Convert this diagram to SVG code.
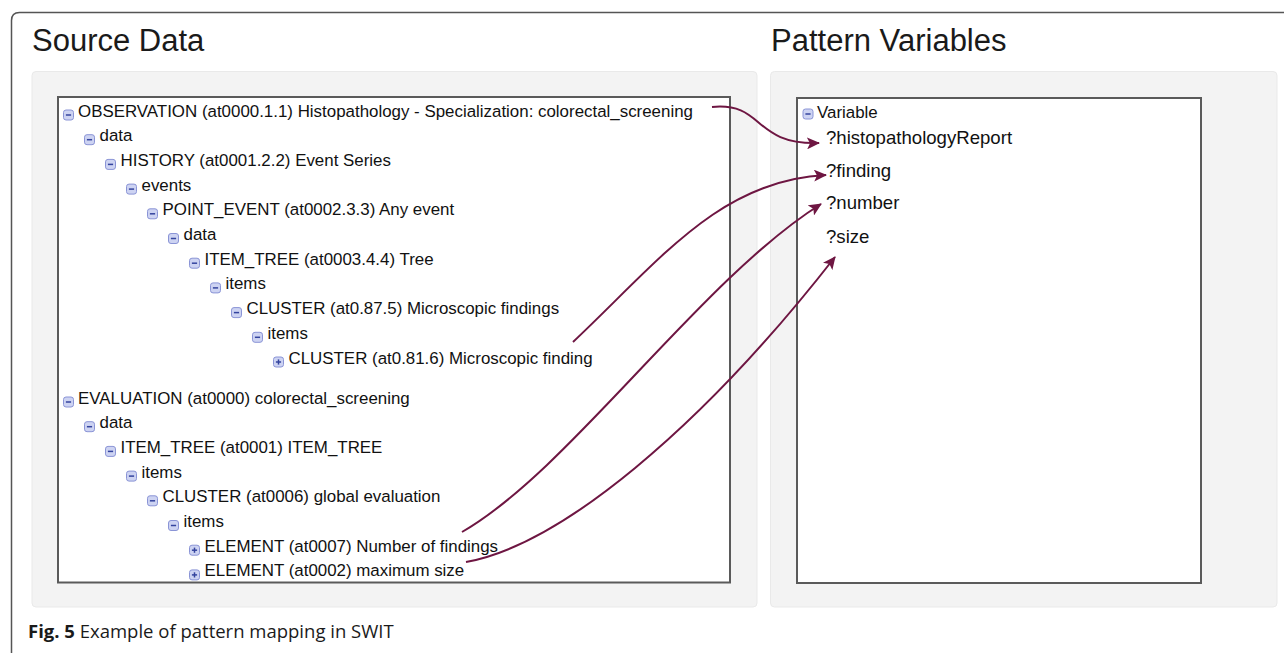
<svg xmlns="http://www.w3.org/2000/svg" xmlns:xlink="http://www.w3.org/1999/xlink" width="1284" height="653" viewBox="0 0 1284 653">
<style>
.t{font-family:"Liberation Sans",Arial,sans-serif;font-size:16.9px;fill:#111}
.v{font-family:"Liberation Sans",Arial,sans-serif;font-size:18.6px;fill:#111}
.h{font-family:"Liberation Sans",Arial,sans-serif;font-size:31px;fill:#1a1a1a}
.cap{font-family:"Open Sans","Noto Sans",sans-serif;font-size:18.5px;fill:#1a1a1a}
.panel{fill:#f3f3f3;stroke:#e9e9e9;stroke-width:1}
.box{fill:#fff;stroke:#5a5a5a;stroke-width:2}
.conn{fill:none;stroke:#6e1642;stroke-width:2}
</style>
<defs>
<g id="minus"><rect x="0" y="0" width="10" height="10" rx="2.5" fill="#cdd3f2" stroke="#8a94d6" stroke-width="1"/><line x1="2.4" y1="5" x2="7.6" y2="5" stroke="#34449e" stroke-width="1.5"/></g>
<g id="plus"><rect x="0" y="0" width="10" height="10" rx="2.5" fill="#cdd3f2" stroke="#8a94d6" stroke-width="1"/><line x1="2.4" y1="5" x2="7.6" y2="5" stroke="#34449e" stroke-width="1.5"/><line x1="5" y1="2.4" x2="5" y2="7.6" stroke="#34449e" stroke-width="1.5"/></g>
<marker id="arr" markerUnits="userSpaceOnUse" markerWidth="14" markerHeight="12" refX="12" refY="6" orient="auto"><path d="M0,0 L13,6 L0,12 L3,6 z" fill="#6e1642"/></marker>
</defs>
<rect width="1284" height="653" fill="#fff"/>
<path d="M11.5,653 V20.5 Q11.5,12.5 19.5,12.5 H1284" fill="none" stroke="#555" stroke-width="1.5"/>
<text class="h" x="32" y="51">Source Data</text>
<text class="h" x="771" y="51">Pattern Variables</text>
<g id="source-panel">
<rect class="panel" x="32" y="71.5" width="725" height="535.5" rx="4"/>
<rect class="box" x="58" y="97" width="672" height="485.5"/>
</g>
<g id="variables-panel">
<rect class="panel" x="770.5" y="71.5" width="506.5" height="535.5" rx="4"/>
<rect class="box" x="797" y="98" width="404" height="485"/>
</g>
<g id="tree">
<g id="n0"><use href="#minus" x="63.5" y="110"/><text class="t" x="78" y="116.5">OBSERVATION (at0000.1.1) Histopathology - Specialization: colorectal_screening</text></g>
<g id="n1"><use href="#minus" x="84.5" y="134.7"/><text class="t" x="99.5" y="141.2">data</text></g>
<g id="n2"><use href="#minus" x="105.5" y="159.4"/><text class="t" x="120.5" y="165.9">HISTORY (at0001.2.2) Event Series</text></g>
<g id="n3"><use href="#minus" x="126.5" y="184.1"/><text class="t" x="141.5" y="190.6">events</text></g>
<g id="n4"><use href="#minus" x="147.5" y="208.8"/><text class="t" x="162.5" y="215.3">POINT_EVENT (at0002.3.3) Any event</text></g>
<g id="n5"><use href="#minus" x="168.5" y="233.5"/><text class="t" x="183.5" y="240">data</text></g>
<g id="n6"><use href="#minus" x="189.5" y="258.2"/><text class="t" x="204.5" y="264.7">ITEM_TREE (at0003.4.4) Tree</text></g>
<g id="n7"><use href="#minus" x="210.5" y="282.9"/><text class="t" x="225.5" y="289.4">items</text></g>
<g id="n8"><use href="#minus" x="231.5" y="307.6"/><text class="t" x="246.5" y="314.1">CLUSTER (at0.87.5) Microscopic findings</text></g>
<g id="n9"><use href="#minus" x="252.5" y="332.3"/><text class="t" x="267.5" y="338.8">items</text></g>
<g id="n10"><use href="#plus" x="273.5" y="357"/><text class="t" x="288.5" y="363.5">CLUSTER (at0.81.6) Microscopic finding</text></g>
<g id="n11"><use href="#minus" x="63.5" y="397"/><text class="t" x="78" y="403.5">EVALUATION (at0000) colorectal_screening</text></g>
<g id="n12"><use href="#minus" x="84.5" y="421.7"/><text class="t" x="99.5" y="428.2">data</text></g>
<g id="n13"><use href="#minus" x="105.5" y="446.4"/><text class="t" x="120.5" y="452.9">ITEM_TREE (at0001) ITEM_TREE</text></g>
<g id="n14"><use href="#minus" x="126.5" y="471.1"/><text class="t" x="141.5" y="477.6">items</text></g>
<g id="n15"><use href="#minus" x="147.5" y="495.8"/><text class="t" x="162.5" y="502.3">CLUSTER (at0006) global evaluation</text></g>
<g id="n16"><use href="#minus" x="168.5" y="520.5"/><text class="t" x="183.5" y="527">items</text></g>
<g id="n17"><use href="#plus" x="189.5" y="545.2"/><text class="t" x="204.5" y="551.7">ELEMENT (at0007) Number of findings</text></g>
<g id="n18"><use href="#plus" x="189.5" y="569.9"/><text class="t" x="204.5" y="576.4">ELEMENT (at0002) maximum size</text></g>
</g>
<g id="variables">
<g id="var-root"><use href="#minus" x="803" y="109"/><text class="t" x="817" y="117.5">Variable</text></g>
<g id="var-histopathologyReport"><text class="v" x="826" y="143.5">?histopathologyReport</text></g>
<g id="var-finding"><text class="v" x="826" y="177">?finding</text></g>
<g id="var-number"><text class="v" x="826" y="209">?number</text></g>
<g id="var-size"><text class="v" x="826" y="243">?size</text></g>
</g>
<g id="connectors">
<path class="conn" marker-end="url(#arr)" d="M712,107 C765,102 752,145 819,143"/>
<path class="conn" marker-end="url(#arr)" d="M573,342 C660,260 720,180 826,175"/>
<path class="conn" marker-end="url(#arr)" d="M462,532 C570,470 700,280 821,204"/>
<path class="conn" marker-end="url(#arr)" d="M466,562 C560,545 700,430 835,257"/>
</g>
<text class="cap" x="28" y="638"><tspan font-weight="bold">Fig. 5</tspan> Example of pattern mapping in SWIT</text>
</svg>
